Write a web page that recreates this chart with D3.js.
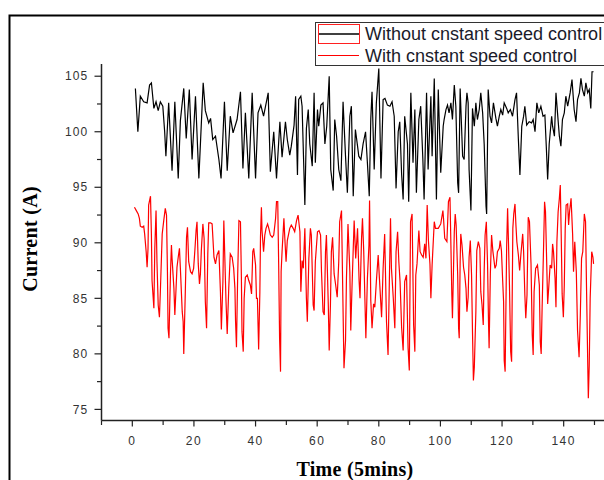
<!DOCTYPE html>
<meta charset="utf-8">
<style>
  body { margin: 0; background: #fff; }
  text { font-family: Arial, "Liberation Sans", sans-serif; }
</style>
<body>
<script src="https://d3js.org/d3.v7.min.js"></script>
<script>
var width = 604,
    height = 480;

// Without constant speed control: time (5 min steps) and current (A)
var tBlack = [
  1.0, 1.8, 2.6, 3.7, 4.8, 5.6, 6.2, 7.0, 7.7, 8.4, 9.1, 9.9, 10.5, 10.9, 11.8, 12.9, 13.8, 14.9, 15.6, 16.7,
  17.5, 18.5, 19.4, 20.5, 21.6, 23.0, 23.7, 24.8, 25.4, 26.1, 27.0, 28.1, 28.8, 29.9, 30.8, 31.8, 32.7, 34.0, 35.1, 35.9,
  36.7, 37.8, 38.9, 40.0, 40.8, 41.7, 42.6, 44.1, 44.8, 45.9, 46.8, 47.9, 48.6, 49.7, 50.3, 51.1, 51.6, 52.5, 53.0, 53.6,
  54.0, 54.7, 55.1, 56.0, 56.5, 57.1, 57.6, 58.4, 59.0, 59.4, 60.1, 60.5, 61.2, 61.9, 62.5, 63.1, 63.9, 64.4, 65.2, 65.7,
  66.3, 67.0, 67.7, 68.4, 69.2, 69.8, 70.6, 71.1, 71.7, 72.4, 73.1, 73.5, 74.2, 74.9, 75.7, 76.3, 76.9, 77.4, 77.8, 78.5,
  79.2, 80.0, 80.7, 81.4, 82.0, 82.8, 83.6, 84.3, 85.0, 85.6, 86.3, 86.8, 87.4, 87.9, 88.4, 89.3, 89.7, 90.4, 91.1, 91.7,
  92.2, 93.0, 93.6, 94.3, 94.7, 95.5, 96.0, 96.9, 97.3, 98.0, 98.7, 99.3, 100.1, 100.9, 101.2, 101.8, 102.3, 102.8, 103.4, 103.9,
  104.5, 105.0, 105.6, 105.9, 106.4, 107.2, 107.7, 108.3, 108.6, 109.0, 109.3, 109.9, 110.4, 111.0, 111.5, 112.0, 112.6, 113.1, 113.7, 114.2,
  114.8, 115.0, 115.5, 116.1, 116.6, 117.2, 118.0, 118.5, 119.1, 119.6, 120.2, 120.7, 121.5, 122.0, 122.7, 123.4, 124.2, 124.7, 125.3, 125.8,
  126.4, 127.0, 127.4, 128.0, 128.8, 129.6, 130.1, 130.7, 131.3, 131.9, 132.6, 133.3, 133.9, 134.4, 134.8, 135.3, 136.1, 136.4, 137.0, 137.5,
  138.0, 138.6, 139.1, 139.6, 140.2, 140.7, 141.3, 142.1, 142.7, 143.4, 144.0, 144.5, 145.1, 145.6, 146.1, 146.7, 147.2, 147.8, 148.3, 148.8,
  149.2, 149.7
];
var vBlack = [
  103.9, 100.0, 103.2, 102.7, 102.6, 104.2, 104.4, 102.1, 102.7, 101.9, 102.7, 102.3, 100.0, 97.8, 102.6, 96.5, 102.7, 95.8, 101.0, 103.9,
  99.4, 103.8, 97.5, 103.2, 95.8, 104.4, 101.9, 100.8, 101.2, 99.3, 99.6, 97.5, 95.8, 102.7, 96.5, 101.4, 99.9, 101.1, 103.6, 96.7,
  101.7, 95.8, 103.5, 95.8, 101.7, 102.4, 101.4, 103.5, 96.4, 100.0, 95.8, 100.9, 97.7, 100.9, 99.3, 97.9, 98.7, 100.6, 103.2, 96.1,
  102.9, 103.2, 102.3, 93.4, 100.3, 102.0, 98.9, 96.9, 103.5, 97.2, 102.0, 100.5, 102.4, 102.6, 98.9, 100.5, 105.0, 96.6, 94.7, 101.1,
  99.6, 96.6, 95.6, 102.7, 97.8, 94.5, 101.4, 102.3, 94.2, 100.2, 98.7, 97.8, 97.5, 98.9, 100.0, 97.2, 94.2, 101.2, 103.6, 96.6,
  102.6, 105.7, 95.8, 102.9, 103.0, 102.4, 102.3, 102.7, 101.4, 94.9, 100.0, 100.9, 96.2, 93.9, 101.4, 98.9, 93.7, 103.5, 97.2, 102.0,
  94.5, 101.1, 102.3, 97.5, 93.9, 103.5, 96.6, 103.2, 97.8, 104.8, 93.9, 103.8, 96.3, 100.5, 101.1, 102.0, 102.4, 101.7, 102.6, 101.1,
  104.2, 102.3, 95.4, 94.5, 103.9, 97.8, 97.5, 102.3, 103.5, 102.6, 96.6, 92.9, 102.1, 100.5, 102.6, 101.1, 102.0, 103.5, 101.7, 98.9,
  93.3, 92.6, 103.8, 101.4, 100.8, 102.6, 101.2, 100.5, 101.4, 102.0, 101.5, 102.6, 102.1, 101.7, 102.0, 101.4, 102.9, 103.5, 99.3, 96.1,
  100.5, 101.4, 102.3, 100.6, 100.9, 100.8, 101.1, 100.0, 102.6, 101.7, 102.3, 101.4, 101.5, 98.4, 95.7, 98.9, 101.4, 100.5, 99.6, 103.5,
  101.7, 99.6, 98.7, 101.1, 101.7, 103.2, 102.3, 103.5, 104.7, 102.0, 100.9, 102.9, 103.5, 104.8, 103.8, 103.2, 104.4, 103.5, 103.8, 102.1,
  105.4, 105.4
];

// With constant speed control
var tRed = [
  0.7, 1.3, 1.9, 2.3, 2.6, 3.2, 3.7, 4.0, 4.5, 4.8, 5.1, 5.3, 5.9, 6.2, 6.4, 7.0, 7.3, 7.7, 8.0, 8.4,
  8.8, 9.1, 9.7, 10.2, 10.7, 11.1, 11.4, 11.6, 11.9, 12.4, 12.7, 12.9, 13.5, 13.8, 14.2, 14.5, 14.9, 15.3, 15.6, 16.2,
  16.5, 16.7, 17.2, 17.6, 17.9, 18.3, 18.9, 19.4, 19.9, 20.3, 20.7, 21.0, 21.4, 21.8, 22.1, 22.4, 22.9, 23.3, 23.7, 24.1,
  24.5, 24.8, 25.4, 25.9, 26.2, 26.5, 27.0, 27.5, 28.1, 28.6, 28.9, 29.4, 29.7, 30.0, 30.4, 30.8, 31.3, 31.8, 32.4, 32.9,
  33.3, 33.5, 33.8, 34.2, 34.6, 35.1, 35.4, 35.6, 36.0, 36.3, 36.7, 37.3, 37.8, 38.3, 38.7, 39.1, 39.4, 40.0, 40.3, 40.6,
  41.0, 41.4, 41.6, 41.9, 42.1, 42.6, 43.0, 43.4, 43.9, 44.3, 44.8, 45.4, 45.9, 46.5, 46.8, 47.2, 47.5, 47.8, 48.1, 48.3,
  48.6, 49.2, 49.5, 49.9, 50.3, 51.1, 51.6, 52.2, 52.7, 53.3, 53.8, 54.4, 54.7, 55.1, 55.5, 56.0, 56.5, 56.8, 57.3, 57.8,
  58.1, 58.7, 59.0, 59.4, 60.1, 60.6, 61.1, 61.4, 61.9, 62.3, 62.7, 63.0, 63.6, 63.9, 64.3, 64.6, 65.0, 65.5, 66.0, 66.5,
  67.0, 67.3, 67.9, 68.2, 68.7, 69.2, 69.5, 70.0, 70.6, 70.9, 71.3, 72.0, 72.5, 73.1, 73.6, 73.9, 74.4, 74.7, 75.1, 75.8,
  76.3, 76.8, 77.0, 77.4, 77.8, 78.3, 78.7, 79.2, 79.8, 80.2, 80.9, 81.4, 81.9, 82.5, 83.0, 83.4, 83.8, 84.1, 84.7, 85.2,
  85.6, 86.1, 86.5, 86.9, 87.4, 87.9, 88.4, 89.0, 89.5, 89.9, 90.3, 90.8, 91.3, 91.7, 92.0, 92.4, 93.0, 93.4, 93.9, 94.4,
  94.9, 95.3, 95.7, 96.1, 96.6, 96.9, 97.3, 98.0, 98.4, 99.3, 100.1, 100.8, 101.0, 101.4, 102.1, 102.6, 103.1, 103.4, 103.7, 103.9,
  104.5, 104.8, 105.1, 105.6, 105.9, 106.1, 106.4, 106.6, 107.0, 107.5, 107.9, 108.3, 108.6, 109.0, 109.3, 109.7, 110.1, 110.4, 110.7, 111.0,
  111.5, 111.8, 112.3, 112.8, 113.1, 113.5, 113.9, 114.2, 114.5, 114.9, 115.3, 115.6, 115.8, 116.2, 116.6, 117.0, 117.7, 118.1, 118.5, 119.1,
  119.4, 119.8, 120.2, 120.5, 120.7, 121.0, 121.5, 121.8, 122.1, 122.4, 122.8, 123.1, 123.5, 123.8, 124.2, 124.5, 124.8, 125.3, 125.7, 126.1,
  126.7, 127.0, 127.4, 127.7, 128.1, 128.5, 128.9, 129.4, 129.8, 130.1, 130.4, 130.9, 131.5, 132.1, 132.4, 132.7, 133.0, 133.5, 133.8, 134.1,
  134.5, 134.8, 135.2, 135.6, 136.1, 136.4, 136.7, 137.2, 137.5, 137.8, 138.2, 138.6, 138.9, 139.2, 139.5, 139.9, 140.2, 140.5, 140.8, 141.3,
  141.6, 141.9, 142.4, 142.9, 143.2, 143.6, 144.1, 144.5, 145.0, 145.4, 145.8, 146.2, 146.7, 147.1, 147.4, 147.8, 148.0, 148.3, 148.6, 149.1,
  149.5, 149.7
];
var vRed = [
  93.2, 92.9, 92.6, 92.2, 91.5, 91.4, 91.5, 90.8, 89.2, 87.8, 89.5, 93.4, 94.2, 90.7, 86.6, 84.1, 89.5, 92.9, 88.3, 84.4,
  83.3, 85.6, 90.8, 92.0, 93.1, 92.5, 87.4, 82.3, 81.4, 87.4, 89.8, 88.6, 85.9, 83.5, 85.9, 87.8, 88.7, 89.5, 87.7, 83.8,
  82.9, 80.0, 85.6, 90.5, 91.4, 88.3, 87.4, 87.2, 87.7, 89.3, 91.1, 91.9, 88.1, 86.3, 87.2, 89.3, 91.7, 90.4, 84.7, 82.3,
  89.0, 91.8, 91.8, 91.7, 90.2, 88.7, 88.1, 88.9, 89.3, 85.6, 82.2, 86.5, 92.0, 88.9, 84.8, 81.8, 85.9, 89.0, 88.7, 87.7,
  85.9, 83.0, 80.6, 87.1, 92.0, 91.9, 86.9, 82.0, 80.2, 85.0, 86.9, 87.1, 86.6, 86.2, 85.4, 89.2, 89.5, 88.0, 85.0, 85.0,
  80.4, 85.6, 90.5, 93.2, 91.1, 89.2, 90.7, 91.3, 91.7, 91.3, 90.7, 90.5, 90.7, 92.2, 93.7, 93.7, 88.1, 81.4, 78.4, 87.4,
  89.2, 92.2, 90.4, 88.3, 90.2, 91.3, 91.6, 91.3, 91.0, 92.0, 92.5, 91.0, 85.6, 88.4, 87.7, 91.3, 85.0, 82.9, 88.6, 91.3,
  90.7, 84.4, 83.9, 88.3, 91.0, 91.1, 90.7, 87.4, 83.8, 83.5, 89.2, 90.7, 84.5, 80.3, 84.4, 89.2, 90.5, 87.2, 86.2, 85.1,
  88.3, 91.9, 92.9, 87.4, 78.7, 81.2, 86.8, 91.7, 87.4, 82.1, 86.0, 92.0, 88.6, 91.3, 86.6, 85.0, 90.4, 92.2, 89.3, 81.4,
  86.8, 89.8, 93.8, 84.8, 82.3, 84.5, 84.2, 86.5, 88.9, 86.8, 83.3, 87.7, 90.8, 82.9, 79.9, 86.2, 92.2, 87.7, 85.0, 82.3,
  89.2, 91.0, 88.3, 86.5, 82.4, 80.3, 86.5, 87.1, 80.5, 78.5, 91.9, 92.6, 82.6, 80.2, 87.1, 88.1, 91.1, 89.2, 88.9, 88.7,
  89.9, 88.6, 93.4, 90.2, 88.1, 85.0, 88.0, 91.9, 91.3, 91.3, 91.7, 92.9, 92.2, 90.4, 90.1, 93.7, 94.1, 89.8, 85.3, 83.2,
  91.0, 92.6, 91.6, 87.1, 82.3, 81.4, 88.3, 90.8, 89.8, 87.8, 87.1, 85.9, 83.8, 85.1, 88.7, 90.2, 87.1, 82.1, 77.6, 78.8,
  83.8, 89.3, 90.1, 89.5, 85.6, 84.4, 82.6, 87.5, 90.7, 91.9, 88.0, 82.9, 80.5, 87.2, 90.7, 89.3, 87.7, 88.0, 89.2, 89.5,
  90.2, 89.3, 86.6, 84.7, 79.4, 78.4, 89.8, 93.1, 89.9, 86.2, 80.2, 79.3, 91.3, 92.6, 93.5, 91.6, 90.1, 88.9, 87.5, 88.9,
  90.8, 89.2, 85.3, 83.2, 85.3, 92.3, 91.9, 88.1, 81.7, 79.9, 85.6, 87.7, 88.0, 86.2, 81.1, 80.0, 84.1, 89.9, 93.7, 92.8,
  88.1, 84.5, 86.2, 88.0, 87.7, 89.9, 89.2, 86.8, 84.2, 90.1, 92.8, 94.0, 95.2, 90.7, 85.4, 83.3, 86.2, 91.3, 93.4, 93.5,
  91.6, 92.8, 94.0, 90.8, 87.4, 90.1, 87.4, 82.1, 79.7, 83.5, 88.6, 89.2, 92.6, 91.9, 86.2, 79.3, 76.0, 79.0, 85.0, 89.2,
  88.7, 88.1
];

var seriesNames = ["Without cnstant speed control", "With cnstant speed control"];
var seriesColors = ["#000000", "#ff0000"];
var xTicks = [0, 20, 40, 60, 80, 100, 120, 140];
var yTicks = [75, 80, 85, 90, 95, 100, 105];

var svg = d3.select("body").append("svg")
    .attr("width", width)
    .attr("height", height);

// outer frame (runs off the right and bottom)
svg.append("rect")
    .attr("x", 9.5).attr("y", 15.5)
    .attr("width", 700).attr("height", 600)
    .attr("fill", "none")
    .attr("stroke", "#000")
    .attr("stroke-width", 2);

var x = d3.scaleLinear().domain([-10, 160]).range([101.5, 625.3]);
var y = d3.scaleLinear().domain([74, 106.1]).range([420.5, 64]);

var line = d3.line()
    .x(function(d) { return x(d[0]); })
    .y(function(d) { return y(d[1]); });

[d3.zip(tBlack, vBlack), d3.zip(tRed, vRed)].forEach(function(s, k) {
  svg.append("path")
      .datum(s)
      .attr("fill", "none")
      .attr("stroke", seriesColors[k])
      .attr("stroke-width", 1.2)
      .attr("d", line);
});

// x axis
var xAxis = svg.append("g").attr("transform", "translate(0,420.5)");
xAxis.append("line")
    .attr("x1", x(-10)).attr("x2", width)
    .attr("stroke", "#222").attr("stroke-width", 1.5);
xAxis.selectAll(".tk").data(d3.range(-10, 160, 10))
  .join("line")
    .attr("x1", function(d) { return x(d); })
    .attr("x2", function(d) { return x(d); })
    .attr("y2", function(d) { return d % 20 === 0 ? 6 : 4.5; })
    .attr("stroke", "#222").attr("stroke-width", 1.2);
xAxis.selectAll("text").data(xTicks)
  .join("text")
    .attr("x", function(d) { return x(d); })
    .attr("y", 24)
    .attr("text-anchor", "middle")
    .attr("font-size", 12)
    .attr("letter-spacing", 1.4)
    .attr("fill", "#333")
    .text(function(d) { return d; });

// y axis
var yAxis = svg.append("g").attr("transform", "translate(101.5,0)");
yAxis.append("line")
    .attr("y1", y(106.1)).attr("y2", 420.5)
    .attr("stroke", "#222").attr("stroke-width", 1.5);
yAxis.selectAll(".tk").data(d3.range(75, 106, 2.5))
  .join("line")
    .attr("y1", function(d) { return y(d); })
    .attr("y2", function(d) { return y(d); })
    .attr("x2", function(d) { return d % 5 === 0 ? -7 : -4.5; })
    .attr("stroke", "#222").attr("stroke-width", 1.2);
yAxis.selectAll("text").data(yTicks)
  .join("text")
    .attr("x", -13)
    .attr("y", function(d) { return y(d); })
    .attr("dy", "0.35em")
    .attr("text-anchor", "end")
    .attr("font-size", 12)
    .attr("letter-spacing", 1.2)
    .attr("fill", "#333")
    .text(function(d) { return d; });

// axis titles
svg.append("text")
    .attr("x", 355).attr("y", 476)
    .attr("text-anchor", "middle")
    .style("font-family", "'Liberation Serif', 'Times New Roman', serif")
    .attr("font-weight", "bold")
    .attr("font-size", 20)
    .attr("letter-spacing", 0.3)
    .text("Time (5mins)");

svg.append("text")
    .attr("transform", "translate(37,239) rotate(-90)")
    .attr("text-anchor", "middle")
    .style("font-family", "'Liberation Serif', 'Times New Roman', serif")
    .attr("font-weight", "bold")
    .attr("font-size", 20)
    .attr("letter-spacing", 0.3)
    .text("Current (A)");

// legend
var legend = svg.append("g");
legend.append("rect")
    .attr("x", 315.5).attr("y", 22.5)
    .attr("width", 300).attr("height", 43)
    .attr("fill", "#fff")
    .attr("stroke", "#333").attr("stroke-width", 1);
seriesNames.forEach(function(name, k) {
  var yy = 34 + k * 21.5;
  legend.append("line")
      .attr("x1", 318).attr("x2", 359)
      .attr("y1", yy).attr("y2", yy)
      .attr("stroke", seriesColors[k])
      .attr("stroke-width", k === 0 ? 1.5 : 1.2);
  legend.append("text")
      .attr("x", 365).attr("y", yy)
      .attr("dy", "0.35em")
      .attr("font-size", 18)
      .attr("fill", "#1a1a2a")
      .text(name);
});
// selection outline round the first legend symbol
legend.append("rect")
    .attr("x", 318.5).attr("y", 24.5)
    .attr("width", 41).attr("height", 19)
    .attr("fill", "none")
    .attr("stroke", "#ff2020").attr("stroke-width", 1);
</script>
</body>
